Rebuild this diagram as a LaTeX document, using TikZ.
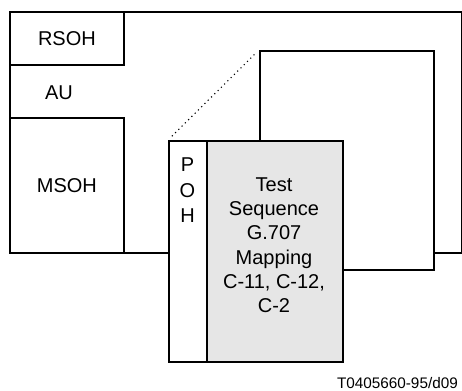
\documentclass[tikz,border=0pt]{standalone}
\usepackage{fontspec}
\setmainfont{Liberation Sans}
\usetikzlibrary{positioning}
\definecolor{payloadgray}{RGB}{230,230,230}

\begin{document}
\begin{tikzpicture}[
  x=1pt, y=-1pt,
  box/.style={draw, line width=1.8pt, rectangle, inner sep=0pt, anchor=north west, align=center,
    font=\fontsize{20}{24.3}\selectfont},
  txt/.style={inner sep=0pt, align=center, font=\fontsize{20}{24.3}\selectfont},
  dots/.style={line width=1.6pt, line cap=round, dash pattern=on 0pt off 4.6pt}
]
\useasboundingbox (0,0) rectangle (462,390);
\node[box, minimum width=452pt, minimum height=241pt] (stm) at (9,11) {};
\node[box, minimum width=114pt, minimum height=53pt] (rsoh) at (9,11) {RSOH};
\node[box, minimum width=114pt, minimum height=135pt] (msoh) at (9,117) {MSOH};
\node[txt] (au) at (59,92.5) {AU};
\node[box, fill=white, minimum width=174pt, minimum height=219pt] (vc) at (259,50) {};
\node[box, fill=white, minimum width=38pt, minimum height=221pt] (pohcol) at (168,140) {};
\node[box, fill=payloadgray, minimum width=136pt, minimum height=221pt] (payload) at (206,140) {};
\node[txt, font=\fontsize{20}{25.5}\selectfont] (poh) at (187.5,190.6) {P\\O\\H};
\node[txt] (testseq) at (274,245.2) {Test\\Sequence\\G.707\\Mapping\\C-11, C-12,\\C-2};
\node[inner sep=0pt, anchor=base east, font=\fontsize{15.3}{18}\selectfont] (fig) at (458,388) {T0405660-95/d09};
\draw[dots, shorten <=6pt, shorten >=6pt] (pohcol.north west) -- (vc.north west);
\end{tikzpicture}
\end{document}
